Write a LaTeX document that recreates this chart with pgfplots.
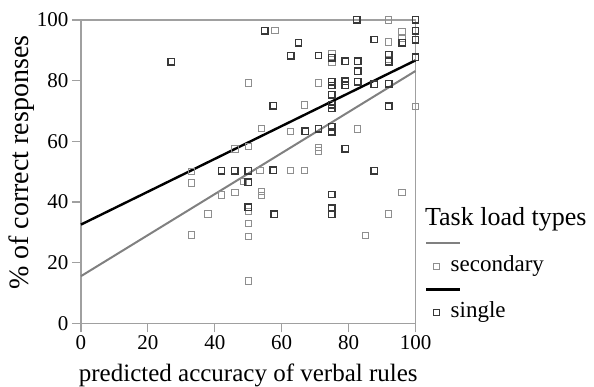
\documentclass[border=0pt]{standalone}
\usepackage{fontspec}
\setmainfont{Liberation Serif}
\usepackage{pgfplots}
\pgfplotsset{compat=1.18}
\definecolor{secg}{HTML}{8E8E8E}
\definecolor{sing}{HTML}{383838}
\definecolor{frameg}{HTML}{A0A0A0}
\definecolor{lineg}{HTML}{808080}
\begin{document}
\begin{tikzpicture}
\path[use as bounding box] (-81pt,-63.5pt) rectangle (513pt,323.5pt);
\begin{axis}[
  at={(0pt,0pt)}, anchor=south west,
  scale only axis, width=334.5pt, height=303.5pt,
  xmin=0, xmax=100, ymin=0, ymax=100,
  xtick={0,20,...,100}, ytick={0,20,...,100},
  tick align=outside, xtick pos=left, ytick pos=left,
  major tick length=9pt,
  every tick/.style={draw=frameg, line width=1.2pt},
  axis line style={draw=frameg, line width=1.5pt},
  ticklabel style={font=\fontsize{21}{21}\selectfont, text=black},
  /pgf/number format/assume math mode=true,
  xlabel={predicted accuracy of verbal rules},
  ylabel={\% of correct responses},
  xlabel style={font=\fontsize{25}{25}\selectfont, at={(axis description cs:0.5,0)}, anchor=base, yshift=-58pt},
  ylabel style={font=\fontsize{28}{28}\selectfont, at={(axis description cs:-0.178,0.53)}, anchor=center},
  clip=false,
  legend style={at={(1.0526,0.3005)}, anchor=north west, draw=none, fill=none,
    inner sep=0pt, column sep=11pt, row sep=0pt,
    font=\fontsize{23}{23}\selectfont,
    nodes={inner sep=0pt, text height=16pt, text depth=7pt},
    cells={anchor=base west}},
]
% secondary
\addplot[only marks, mark=square, mark size=3.2pt, draw=secg, mark options={line width=0.9pt}, forget plot] coordinates {
(33,50) (33,46.3) (33,29.2) (38,36.1) (42,42.4) (46,43.2) (46,57.5) (48.5,46.8)
(50,79.3) (50,58.3) (50,37) (50,33) (50,28.7) (50,14) (53.5,50.5) (54,64.3)
(54,43.5) (54,42.1) (58,96.5) (62.7,63.3) (62.7,50.5) (66.8,50.5) (66.8,72)
(71,79.3) (71,58) (71,56.8) (75,89) (75,86) (82.7,64.1) (85,29) (92,100)
(92,92.7) (92,87) (92,36.1) (96,96.3) (96,94) (96,43.2) (100,71.6)
};
% single
\addplot[only marks, mark=square, mark size=3.2pt, draw=sing, mark options={line width=1.4pt}, forget plot] coordinates {
(27,86.2) (42,50.3) (46,50.3) (50,50.3) (50,46.5) (50,38.3) (55,96.5) (57.5,71.7)
(57.5,50.5) (57.7,36) (62.7,88.2) (65,92.5) (67,63.3) (71,88.3) (71,64.1)
(75,87.5) (75,79.7) (75,78.4) (75,75.3) (75,72) (75,71) (75,64.8) (75,63.2)
(75,42.5) (75,38) (75,36) (79,86.4) (79,79.8) (79,78.5) (79,57.5) (82.5,100)
(82.7,86.4) (82.7,83.1) (82.7,79.6) (87.7,93.6) (87.7,78.9) (87.7,50.3)
(92,88.5) (92,86.2) (92,79) (92,71.6) (96,92.5) (100,100) (100,96.5)
(100,93.5) (100,87.8)
};
% fit lines
\addplot[lineg, line width=2pt, forget plot] coordinates {(0,15.6) (100,83.2)};
\addplot[black, line width=2.4pt, forget plot] coordinates {(0,32.6) (100,86.7)};
% legend
\addlegendimage{legend image code/.code={\draw[lineg, line width=2pt, overlay] (-10pt,5pt) -- (24pt,5pt);}}
\addlegendentry{\mbox{}}
\addlegendimage{legend image code/.code={\draw[secg, line width=0.9pt, mark=square, mark size=3.2pt] plot coordinates {(0pt,5pt)};}}
\addlegendentry{secondary}
\addlegendimage{legend image code/.code={\draw[black, line width=2.4pt, overlay] (-10pt,5pt) -- (24pt,5pt);}}
\addlegendentry{\mbox{}}
\addlegendimage{legend image code/.code={\draw[sing, line width=1.4pt, mark=square, mark size=3.2pt] plot coordinates {(0pt,5pt)};}}
\addlegendentry{single}
\node[anchor=base west, inner sep=0pt, font=\fontsize{26}{26}\selectfont] at (rel axis cs:1.028,0.3245) {Task load types};
\end{axis}
\end{tikzpicture}
\end{document}
